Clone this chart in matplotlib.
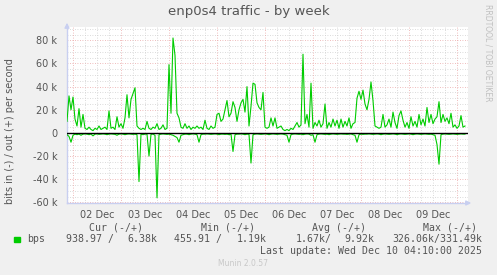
import matplotlib
matplotlib.use("Agg")
import matplotlib.pyplot as plt
import pandas as pd
import numpy as np

# hourly samples starting 2025-12-01 21:00, values in kbit/s
start = "2025-12-01 21:00"
bps_out = [
    10, 32, 20, 31, 12, 6, 21, 5, 16, 4,
    3, 5, 3, 2, 4, 3, 6, 3, 4, 5,
    3, 19, 4, 5, 3, 14, 5, 8, 4, 13,
    33, 13, 29, 34, 39, 6, 4, 3, 4, 3,
    10, 4, 3, 5, 4, 8, 3, 4, 7, 3,
    4, 59, 17, 82, 67, 17, 13, 5, 4, 8,
    4, 6, 3, 5, 4, 6, 4, 5, 3, 11,
    4, 3, 6, 4, 5, 16, 17, 10, 12, 20,
    28, 14, 17, 27, 22, 10, 20, 26, 29, 18,
    40, 6, 23, 43, 42, 26, 22, 20, 35, 5,
    4, 5, 13, 6, 13, 4, 5, 6, 3, 2,
    3, 2, 4, 3, 6, 9, 5, 7, 68, 8,
    16, 5, 43, 4, 9, 6, 11, 5, 8, 25,
    4, 9, 5, 12, 6, 11, 4, 12, 5, 10,
    6, 13, 4, 8, 9, 30, 36, 29, 37, 25,
    20, 29, 44, 28, 6, 5, 4, 5, 16, 5,
    7, 12, 5, 18, 9, 4, 15, 19, 11, 5,
    9, 4, 14, 6, 10, 5, 16, 7, 12, 6,
    22, 9, 16, 8, 12, 14, 27, 9, 16, 10,
    13, 8, 17, 5, 7, 4, 6, 15, 5, 6,
]
bps_in = [
    1.5, 3, 8, 2, 1, 1.5, 1, 2, 1, 0.8,
    1, 1.5, 1, 2.5, 1, 0.8, 1.2, 1, 0.8, 1,
    1.5, 1, 0.8, 1, 1.2, 2, 1, 0.8, 1, 1.5,
    1, 0.8, 1, 1.2, 1, 1.5, 42, 1, 1.5, 1,
    1, 20, 1.2, 1, 2, 56, 1.5, 1, 0.8, 1,
    1.2, 1, 1.5, 2, 3, 4, 8, 2, 1.5, 1,
    1, 1.5, 1, 0.8, 1, 1.5, 8, 1.5, 1, 1,
    0.8, 1, 1.2, 1, 0.8, 1, 1.5, 1, 1, 1.2,
    1, 1.5, 1, 16, 1.5, 1, 1, 0.8, 1, 1.5,
    1, 1.2, 26, 1.5, 1, 0.8, 1, 1.2, 1, 0.8,
    1, 1.5, 1, 0.8, 1, 1.2, 1, 0.8, 1, 1.5,
    2, 8, 1.5, 1, 0.8, 1, 1.2, 1, 1.5, 1,
    0.8, 1, 2, 1.5, 8, 1.5, 1, 0.8, 1, 1.2,
    1, 1.5, 1, 0.8, 1, 1.2, 1, 0.8, 1, 1,
    1.2, 1, 0.8, 1.5, 2, 8, 1.5, 1, 1.2, 1,
    1, 0.8, 1, 1.2, 1, 0.8, 1, 1.5, 1, 0.8,
    1, 1.2, 1, 0.8, 1, 1.5, 1, 0.8, 1, 1.2,
    1, 0.8, 1, 1.5, 1, 0.8, 1, 1.2, 1, 0.8,
    1, 1.2, 1, 1.5, 2, 10, 27, 1.5, 1, 0.8,
    1, 1.2, 1, 0.8, 1, 1.2, 1, 0.8, 1, 1,
]
day_labels = ["02 Dec", "03 Dec", "04 Dec", "05 Dec", "06 Dec", "07 Dec", "08 Dec", "09 Dec"]
ytick_vals = [80, 60, 40, 20, 0, -20, -40, -60]

times = pd.date_range(start, periods=len(bps_out), freq="h")
out_v = np.array(bps_out) * 1000
in_v = -np.array(bps_in) * 1000

W, H = 497, 275
fig = plt.figure(figsize=(W / 100, H / 100), dpi=100, facecolor="#f0f0f0")
ax = fig.add_axes([67 / W, (H - 203) / H, 401 / W, 176 / H], facecolor="white")

t0 = pd.Timestamp(start)
ax.set_xlim(t0, t0 + pd.Timedelta(hours=200.5))
ax.set_ylim(-60500, 91500)

# grid: minor grey every 5k / 6h, major red every 20k / midnight
gray = "#cfcfcf"
red = "#eaa6a6"
dots = (0, (1, 2))
for v in range(-60000, 91000, 5000):
    if v % 20000:
        ax.axhline(v, color=gray, lw=0.6, ls=dots, zorder=1)
for v in range(-60000, 91000, 20000):
    ax.axhline(v, color=red, lw=0.6, ls=dots, zorder=1)
hrs = pd.date_range("2025-12-02 00:00", "2025-12-10 06:00", freq="6h")
for t in hrs:
    if t.hour == 0:
        ax.axvline(t, color=red, lw=0.6, ls=dots, zorder=1)
    else:
        ax.axvline(t, color=gray, lw=0.6, ls=dots, zorder=1)

ax.plot(times, out_v, color="#00cc00", lw=0.8, zorder=3)
ax.plot(times, in_v, color="#00cc00", lw=0.8, zorder=3)
ax.axhline(0, color="black", lw=1.0, zorder=4)

for s in ["top", "right"]:
    ax.spines[s].set_visible(False)
for s in ["left", "bottom"]:
    ax.spines[s].set_color("#c8cff0")
    ax.spines[s].set_linewidth(1.0)
# axis arrows
ax.annotate("", xy=(0, 1.04), xytext=(0, 0.99), xycoords="axes fraction",
            arrowprops=dict(arrowstyle="-|>", color="#c8cff0", lw=1, mutation_scale=7))
ax.annotate("", xy=(1.015, 0), xytext=(0.99, 0), xycoords="axes fraction",
            arrowprops=dict(arrowstyle="-|>", color="#c8cff0", lw=1, mutation_scale=7))

txt = "#555555"
ax.set_yticks([v * 1000 for v in ytick_vals])
ax.set_yticklabels([f"{v} k" if v else "0" for v in ytick_vals])
noon = [pd.Timestamp("2025-12-02 12:00") + pd.Timedelta(days=k) for k in range(len(day_labels))]
ax.set_xticks(noon)
ax.set_xticklabels(day_labels)
ax.tick_params(length=0, labelsize=7, colors=txt, pad=5)
ax.tick_params(axis="y", pad=7)

fig.text(248.5 / W, 1 - 12 / H, "enp0s4 traffic - by week", ha="center", va="center",
         fontsize=9.5, color=txt)
fig.text(10 / W, 1 - 131 / H, "bits in (-) / out (+) per second", rotation=90,
         ha="center", va="center", fontsize=7, color=txt)
fig.text(488 / W, 1 - 53 / H, "RRDTOOL / TOBI OETIKER", rotation=270,
         ha="center", va="center", fontsize=5.5, color="#c0c0c0")

mono = dict(family="DejaVu Sans Mono", fontsize=7.1, color=txt, va="center")
y1, y2, y3 = 1 - 227.7 / H, 1 - 239.3 / H, 1 - 250.7 / H
for x, s in [(89.3, "Cur (-/+)"), (201, "Min (-/+)"), (312.3, "Avg (-/+)"), (422.7, "Max (-/+)")]:
    fig.text(x / W, y1, s, ha="left", **mono)
fig.patches.append(plt.Rectangle((14 / W, 1 - 242.3 / H), 5.5 / W, 5.5 / H,
                                 transform=fig.transFigure, color="#00cc00"))
fig.text(26.7 / W, y2, "bps", ha="left", **mono)
fig.text(66.3 / W, y2, "938.97 /", ha="left", **mono)
fig.text(157 / W, y2, "6.38k", ha="right", **mono)
fig.text(174 / W, y2, "455.91 /", ha="left", **mono)
fig.text(266.7 / W, y2, "1.19k", ha="right", **mono)
fig.text(295.7 / W, y2, "1.67k/", ha="left", **mono)
fig.text(374 / W, y2, "9.92k", ha="right", **mono)
fig.text(482 / W, y2, "326.06k/331.49k", ha="right", **mono)
fig.text(482 / W, y3, "Last update: Wed Dec 10 04:10:00 2025", ha="right", **mono)
fig.text(243 / W, 1 - 264 / H, "Munin 2.0.57", ha="center", va="center",
         fontsize=5.5, color="#c8c8c8")

fig.savefig("out.png", dpi=100, facecolor="#f0f0f0")
